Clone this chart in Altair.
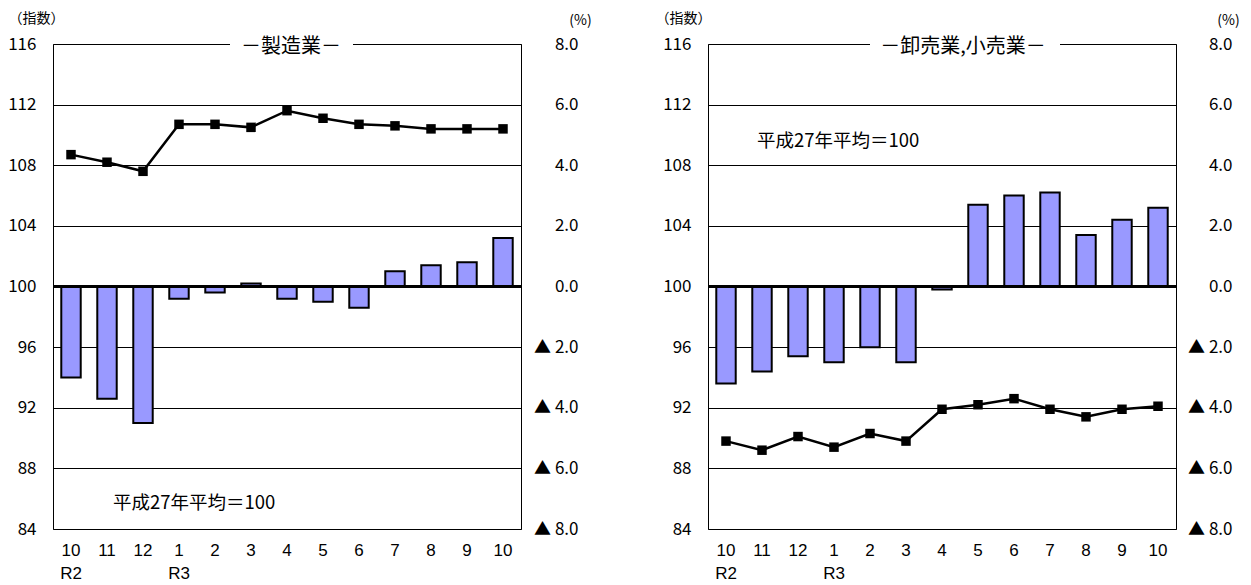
import altair as alt
import pandas as pd

# ---- data ----
months = ["10", "11", "12", "1", "2", "3", "4", "5", "6", "7", "8", "9", "10"]
eras = ["R2", "", "", "R3", "", "", "", "", "", "", "", "", ""]

mfg_index = [108.7, 108.2, 107.6, 110.7, 110.7, 110.5, 111.6, 111.1, 110.7, 110.6, 110.4, 110.4, 110.4]
mfg_pct = [-3.0, -3.7, -4.5, -0.4, -0.2, 0.1, -0.4, -0.5, -0.7, 0.5, 0.7, 0.8, 1.6]

trade_index = [89.8, 89.2, 90.1, 89.4, 90.3, 89.8, 91.9, 92.2, 92.6, 91.9, 91.4, 91.9, 92.1]
trade_pct = [-3.2, -2.8, -2.3, -2.5, -2.0, -2.5, -0.1, 2.7, 3.0, 3.1, 1.7, 2.2, 2.6]

index_ticks = [84, 88, 92, 96, 100, 104, 108, 112, 116]
pct_ticks = [-8, -6, -4, -2, 0, 2, 4, 6, 8]

panel_titles = ["－製造業－", "－卸売業,小売業－"]
note_text = "平成27年平均＝100"

FONT = "Noto Sans CJK JP"
XFONT = "Liberation Sans"
W, H = 468, 485

x_label_expr = "[" + ",".join(f"['{m}','{e}']" for m, e in zip(months, eras)) + "][datum.value]"
pct_label_expr = "datum.value < 0 ? '▲ ' + format(-datum.value, '.1f') : format(datum.value, '.1f')"


def panel(title, idx_vals, pct_vals, title_cx, cover_x1, cover_x2, note_x, note_y,
          idx_title_x, pct_title_x, pct_pad):
    df = pd.DataFrame({"i": list(range(len(months))), "index": idx_vals, "pct": pct_vals})
    base = alt.Chart(df)
    x = alt.X(
        "i:O",
        scale=alt.Scale(paddingInner=0.46, paddingOuter=0.23),
        axis=alt.Axis(
            title=None, labelExpr=x_label_expr, labelAngle=0, ticks=False, domain=False,
            labelFont=XFONT, labelFontSize=17, labelLineHeight=23, labelPadding=13,
            labelBaseline="top", labelColor="black", grid=False,
        ),
    )
    pct_axis = alt.Axis(
        orient="right", values=pct_ticks, labelExpr=pct_label_expr, ticks=False, domain=False,
        grid=False, labelAlign="right", labelPadding=pct_pad, labelFontSize=17, labelColor="black",
        title="(%)", titleAngle=0, titleAlign="center", titleBaseline="middle",
        titleX=pct_title_x, titleY=-24, titleFontSize=14, titleFontWeight="normal", titleColor="black",
    )
    idx_axis = alt.Axis(
        orient="left", values=index_ticks, ticks=False, domain=False, grid=True,
        gridColor="black", gridWidth=1, gridOpacity=1, labelPadding=17, labelFontSize=17,
        labelColor="black",
        title="（指数）", titleAngle=0, titleAlign="center", titleBaseline="middle",
        titleX=idx_title_x, titleY=-26, titleFontSize=14, titleFontWeight="normal", titleColor="black",
    )
    pct_scale = alt.Scale(domain=[-8, 8], nice=False)
    idx_scale = alt.Scale(domain=[84, 116], nice=False)

    bars = base.mark_bar(color="#9999FF", stroke="black", strokeWidth=2).encode(
        x=x, y=alt.Y("pct:Q", scale=pct_scale, axis=pct_axis)
    )
    zero = base.mark_rule(color="black", strokeWidth=3).encode(
        y=alt.datum(0)
    )
    pct_layer = alt.layer(bars, zero)

    line = base.mark_line(color="black", strokeWidth=2.5).encode(
        x=x, y=alt.Y("index:Q", scale=idx_scale, axis=idx_axis)
    )
    pts = base.mark_point(shape="square", filled=True, color="black", size=90, opacity=1).encode(
        x=x, y=alt.Y("index:Q", scale=idx_scale, axis=idx_axis)
    )
    idx_layer = alt.layer(line, pts)

    tdf = pd.DataFrame({"t": [title]})
    cover = alt.Chart(tdf).mark_rect(color="white").encode(
        x=alt.value(cover_x1), x2=alt.value(cover_x2), y=alt.value(-4), y2=alt.value(4)
    )
    ttext = alt.Chart(tdf).mark_text(fontSize=20, font=FONT, color="black", baseline="middle").encode(
        text="t:N", x=alt.value(title_cx), y=alt.value(3)
    )
    ndf = pd.DataFrame({"t": [note_text]})
    note = alt.Chart(ndf).mark_text(fontSize=18.5, font=FONT, color="black", align="left", baseline="middle").encode(
        text="t:N", x=alt.value(note_x), y=alt.value(note_y)
    )
    return alt.layer(pct_layer, idx_layer, cover, ttext, note).resolve_scale(y="independent").properties(
        width=W, height=H
    )


left = panel(panel_titles[0], mfg_index, mfg_pct, 238, 177, 300, 60, 459, -17, 59, 57)
right = panel(panel_titles[1], trade_index, trade_pct, 255, 162, 352, 49, 97, -25, 52, 56)

chart = alt.hconcat(left, right, spacing=62).properties(
    padding={"left": -1, "top": 2, "right": 0, "bottom": 0}
).configure_view(stroke="black", strokeWidth=1).configure_axis(
    labelFont=FONT, titleFont=FONT
).configure_text(font=FONT)

chart.save("out.html", embed_options={"renderer": "svg", "actions": False})
